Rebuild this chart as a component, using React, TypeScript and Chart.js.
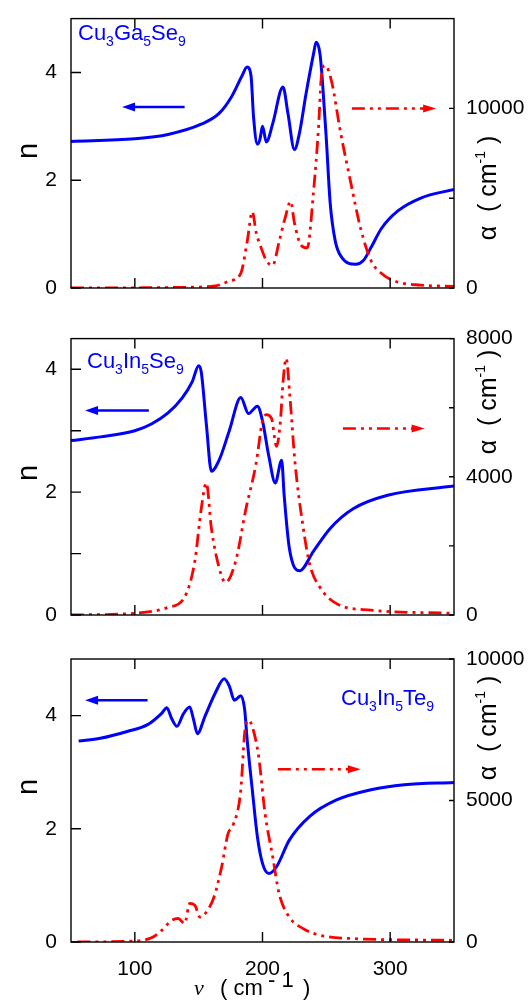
import React, { useEffect, useRef } from "react";
import { Chart, registerables } from "chart.js";
Chart.register(...registerables);

// ---------- shared axis data ----------
const xTicks = [100, 200, 300];
const xTickLabels = ["100", "200", "300"];

// ---------- Panel 1 : Cu3Ga5Se9 ----------
const gaLabel = ["Cu", "3", "Ga", "5", "Se", "9"];
const gaNuN = [50, 100, 126, 152, 166, 176, 184, 188, 191, 193, 196, 198, 200, 203, 208, 216, 220, 225, 229, 234, 240, 242, 245, 247, 250, 253, 257, 262, 273, 279, 285, 293, 306, 324, 350];
const gaN = [2.72, 2.77, 2.85, 3.04, 3.24, 3.56, 3.94, 4.1, 3.94, 3.17, 2.67, 2.76, 3.0, 2.71, 3.05, 3.73, 3.23, 2.57, 2.88, 3.59, 4.35, 4.56, 4.35, 3.82, 2.76, 1.58, 0.87, 0.57, 0.44, 0.51, 0.75, 1.1, 1.43, 1.67, 1.83];
const gaNuA = [50, 100, 140, 163, 174, 183, 188, 192, 195, 199, 203, 208, 213, 218, 222, 225, 230, 235, 240, 244, 246, 249, 254, 261, 269, 277, 285, 293, 306, 324, 350];
const gaAlpha = [0, 10, 40, 120, 390, 820, 2580, 4250, 3100, 2230, 1530, 1260, 2580, 3980, 4820, 3630, 2400, 2230, 5390, 9070, 11700, 12400, 11530, 8720, 5910, 3280, 1530, 820, 330, 160, 90];
const gaNTicks = [0, 2, 4];
const gaNLabels = [0, 2, 4];
const gaATicks = [0, 5000, 10000];
const gaALabels = [0, 10000];

// ---------- Panel 2 : Cu3In5Se9 ----------
const inLabel = ["Cu", "3", "In", "5", "Se", "9"];
const inNuN = [50, 73, 100, 113, 126, 137, 145, 150, 152, 156, 160, 166, 174, 183, 189, 196, 200, 205, 210, 215, 217, 221, 229, 240, 253, 271, 298, 350];
const inN = [2.84, 2.9, 3.0, 3.11, 3.29, 3.53, 3.8, 4.06, 3.96, 3.11, 2.34, 2.52, 3.0, 3.54, 3.28, 3.4, 3.16, 2.58, 2.15, 2.52, 1.94, 1.09, 0.72, 1.04, 1.41, 1.73, 1.95, 2.1];
const inNuA = [50, 100, 126, 139, 147, 152, 156, 160, 166, 171, 179, 187, 195, 200, 203, 207, 211, 214, 216, 218.5, 221.5, 225.5, 232, 237, 245, 258, 285, 350];
const inAlpha = [0, 50, 220, 520, 1560, 3070, 3820, 2500, 1370, 940, 1560, 3070, 4390, 5620, 5800, 5700, 4880, 5600, 6700, 7430, 6300, 4400, 2500, 1460, 800, 330, 140, 50];
const inNTicks = [0, 1, 2, 3, 4];
const inNLabels = [0, 2, 4];
const inATicks = [0, 2000, 4000, 6000, 8000];
const inALabels = [0, 4000, 8000];

// ---------- Panel 3 : Cu3In5Te9 ----------
const teLabel = ["Cu", "3", "In", "5", "Te", "9"];
const teNuN = [56, 73, 94, 110, 121, 125, 129, 133, 138, 143, 146, 149, 155, 163, 170, 174, 178, 183, 186, 188, 192, 196, 200, 205, 211, 221, 237, 258, 285, 311, 350];
const teN = [3.55, 3.6, 3.72, 3.84, 4.04, 4.14, 3.94, 3.81, 4.03, 4.15, 3.93, 3.68, 3.99, 4.4, 4.65, 4.52, 4.27, 4.35, 4.11, 3.57, 2.69, 1.86, 1.39, 1.21, 1.33, 1.8, 2.22, 2.51, 2.69, 2.78, 2.82];
const teNuA = [55, 100, 113, 121, 129, 134, 139, 143, 147, 151, 157, 162, 168, 173, 177, 183, 186, 189, 192, 197, 202, 208, 213, 221, 232, 245, 271, 350];
const teAlpha = [0, 35, 150, 410, 770, 830, 650, 1360, 1300, 880, 1120, 1590, 2650, 3830, 4130, 5370, 7370, 7840, 7610, 6550, 4540, 3010, 1710, 880, 470, 240, 120, 60];
const teNTicks = [0, 2, 4];
const teNLabels = [0, 2, 4];
const teATicks = [0, 5000, 10000];
const teALabels = [0, 5000, 10000];

const BLUE = "#0000ff";
const RED = "#ff0000";
const SANS = "'Liberation Sans', Arial, sans-serif";
const RED_DASH = [13, 5, 3, 5, 3, 5];

type Panel = {
  top: number; height: number; areaTop: number; areaBottom: number;
  nMax: number; nTicks: number[]; nLabels: number[];
  aMax: number; aTicks: number[]; aLabels: number[];
  nuN: number[]; n: number[]; nuA: number[]; alpha: number[];
  label: string[]; labelX: number; labelY: number;
  nTitleY: number; aTitleY: number;
  blueArrow: [number, number, number]; redArrow: [number, number, number];
  showX: boolean;
};

const panels: Panel[] = [
  {
    top: 0, height: 320, areaTop: 6, areaBottom: 288,
    nMax: 5, nTicks: gaNTicks, nLabels: gaNLabels,
    aMax: 15000, aTicks: gaATicks, aLabels: gaALabels,
    nuN: gaNuN, n: gaN, nuA: gaNuA, alpha: gaAlpha,
    label: gaLabel, labelX: 78, labelY: 40,
    nTitleY: 151, aTitleY: 188,
    blueArrow: [139, 90, 3.36], redArrow: [270, 336, 10000],
    showX: false,
  },
  {
    top: 320, height: 320, areaTop: 13, areaBottom: 295,
    nMax: 4.5, nTicks: inNTicks, nLabels: inNLabels,
    aMax: 8000, aTicks: inATicks, aLabels: inALabels,
    nuN: inNuN, n: inN, nuA: inNuA, alpha: inAlpha,
    label: inLabel, labelX: 87, labelY: 48,
    nTitleY: 153, aTitleY: 82,
    blueArrow: [111, 61, 3.33], redArrow: [263, 327, 5400],
    showX: false,
  },
  {
    top: 640, height: 367, areaTop: 19, areaBottom: 302,
    nMax: 5, nTicks: teNTicks, nLabels: teNLabels,
    aMax: 10000, aTicks: teATicks, aLabels: teALabels,
    nuN: teNuN, n: teN, nuA: teNuA, alpha: teAlpha,
    label: teLabel, labelX: 341, labelY: 65,
    nTitleY: 147, aTitleY: 88,
    blueArrow: [110, 61, 4.27], redArrow: [212, 277, 6100],
    showX: true,
  },
];

const LEFT_W = 71;
const RIGHT_W = 528 - 454;

function drawArrowHead(ctx: CanvasRenderingContext2D, tipX: number, y: number, dir: number, len: number, half: number, color: string) {
  ctx.save();
  ctx.setLineDash([]);
  ctx.fillStyle = color;
  ctx.beginPath();
  ctx.moveTo(tipX, y);
  ctx.lineTo(tipX - dir * len, y - half);
  ctx.lineTo(tipX - dir * len, y + half);
  ctx.closePath();
  ctx.fill();
  ctx.restore();
}

function makeDecor(p: Panel) {
  return {
    id: "decor",
    afterDraw(chart: any) {
      const ctx: CanvasRenderingContext2D = chart.ctx;
      const a = chart.chartArea;
      const xs = chart.scales.x;
      const yn = chart.scales.yN;
      const ya = chart.scales.yA;
      ctx.save();
      // frame
      ctx.strokeStyle = "#000";
      ctx.lineWidth = 1.4;
      ctx.setLineDash([]);
      ctx.strokeRect(a.left, a.top, a.right - a.left, a.bottom - a.top);
      // ticks (inward)
      ctx.beginPath();
      for (const v of xTicks) {
        const px = xs.getPixelForValue(v);
        ctx.moveTo(px, a.bottom); ctx.lineTo(px, a.bottom - 10);
        ctx.moveTo(px, a.top); ctx.lineTo(px, a.top + 10);
      }
      for (const v of p.nTicks) {
        const py = yn.getPixelForValue(v);
        ctx.moveTo(a.left, py); ctx.lineTo(a.left + 10, py);
      }
      for (const v of p.aTicks) {
        const py = ya.getPixelForValue(v);
        ctx.moveTo(a.right, py); ctx.lineTo(a.right - 5, py);
      }
      ctx.stroke();

      // compound label
      let x = p.labelX;
      ctx.fillStyle = BLUE;
      ctx.textBaseline = "alphabetic";
      ctx.textAlign = "left";
      p.label.forEach((s, i) => {
        const sub = i % 2 === 1;
        ctx.font = `${sub ? 14 : 22}px ${SANS}`;
        ctx.fillText(s, x, p.labelY + (sub ? 6 : 0));
        x += ctx.measureText(s).width;
      });

      // blue arrow (n, points left)
      const [bx1, bx2, bn] = p.blueArrow;
      const by = yn.getPixelForValue(bn);
      const bp1 = xs.getPixelForValue(bx1);
      const bp2 = xs.getPixelForValue(bx2);
      ctx.strokeStyle = BLUE;
      ctx.lineWidth = 2.5;
      ctx.beginPath();
      ctx.moveTo(bp1, by); ctx.lineTo(bp2 + 8, by);
      ctx.stroke();
      drawArrowHead(ctx, bp2, by, -1, 13, 4.5, BLUE);

      // red arrow (alpha, points right)
      const [rx1, rx2, ra] = p.redArrow;
      const ry = ya.getPixelForValue(ra);
      const rp1 = xs.getPixelForValue(rx1);
      const rp2 = xs.getPixelForValue(rx2);
      ctx.strokeStyle = RED;
      ctx.lineWidth = 2.5;
      ctx.setLineDash(RED_DASH);
      ctx.beginPath();
      ctx.moveTo(rp1, ry); ctx.lineTo(rp2 - 8, ry);
      ctx.stroke();
      ctx.setLineDash([]);
      drawArrowHead(ctx, rp2, ry, 1, 13, 4, RED);

      // left title "n"
      ctx.fillStyle = "#000";
      ctx.save();
      ctx.translate(37, p.nTitleY);
      ctx.rotate(-Math.PI / 2);
      ctx.font = `29px ${SANS}`;
      ctx.textAlign = "center";
      ctx.textBaseline = "alphabetic";
      ctx.fillText("n", 0, 0);
      ctx.restore();

      // right title "α ( cm-1 )"
      ctx.save();
      ctx.translate(496, p.aTitleY);
      ctx.rotate(-Math.PI / 2);
      ctx.textBaseline = "alphabetic";
      ctx.textAlign = "left";
      const segs: [string, boolean][] = [["α  ( cm", false], ["-1", true], [" )", false]];
      let total = 0;
      for (const [s, sup] of segs) {
        ctx.font = `${sup ? 14 : 25}px ${SANS}`;
        total += ctx.measureText(s).width;
      }
      let tx = -total / 2;
      for (const [s, sup] of segs) {
        ctx.font = `${sup ? 14 : 25}px ${SANS}`;
        ctx.fillText(s, tx, sup ? -11 : 0);
        tx += ctx.measureText(s).width;
      }
      ctx.restore();

      // x title
      if (p.showX) {
        const base = 995 - p.top;
        ctx.fillStyle = "#000";
        ctx.textAlign = "left";
        ctx.textBaseline = "alphabetic";
        ctx.font = `italic 22px 'Liberation Serif', 'Times New Roman', serif`;
        ctx.fillText("ν", 194, base);
        ctx.font = `22px ${SANS}`;
        ctx.fillText("( cm", 220, base);
        ctx.fillText("- 1", 268, base - 8);
        ctx.fillText(")", 303, base);
      }
      ctx.restore();
    },
  };
}

function PanelChart({ p }: { p: Panel }) {
  const ref = useRef<HTMLCanvasElement | null>(null);
  useEffect(() => {
    if (!ref.current) return;
    const chart = new Chart(ref.current, {
      type: "line",
      data: {
        datasets: [
          {
            data: p.nuA.map((v, i) => ({ x: v, y: p.alpha[i] })),
            yAxisID: "yA",
            borderColor: RED,
            borderWidth: 2.8,
            borderDash: RED_DASH,
            pointRadius: 0,
            fill: false,
            cubicInterpolationMode: "monotone",
          },
          {
            data: p.nuN.map((v, i) => ({ x: v, y: p.n[i] })),
            yAxisID: "yN",
            borderColor: BLUE,
            borderWidth: 3,
            pointRadius: 0,
            fill: false,
            cubicInterpolationMode: "monotone",
          },
        ],
      },
      options: {
        animation: false,
        responsive: false,
        devicePixelRatio: 1,
        layout: { padding: { top: p.areaTop, left: 0, right: 0, bottom: 0 } },
        plugins: { legend: { display: false }, tooltip: { enabled: false } },
        scales: {
          x: {
            type: "linear",
            position: "bottom",
            min: 50,
            max: 350,
            grid: { display: false },
            border: { display: false },
            afterBuildTicks: (s: any) => { s.ticks = xTicks.map((v) => ({ value: v })); },
            afterFit: (s: any) => { s.height = p.height - p.areaBottom; },
            ticks: {
              display: p.showX,
              padding: 7,
              color: "#000",
              font: { family: SANS, size: 21 },
              callback: (v: any) => { const i = xTicks.indexOf(Number(v)); return i >= 0 ? xTickLabels[i] : ""; },
            },
          },
          yN: {
            type: "linear",
            position: "left",
            min: 0,
            max: p.nMax,
            grid: { display: false },
            border: { display: false },
            afterBuildTicks: (s: any) => { s.ticks = p.nTicks.map((v) => ({ value: v })); },
            afterFit: (s: any) => { s.width = LEFT_W; },
            ticks: {
              padding: 6,
              color: "#000",
              font: { family: SANS, size: 21 },
              callback: (v: any) => (p.nLabels.includes(Number(v)) ? String(v) : ""),
            },
          },
          yA: {
            type: "linear",
            position: "right",
            min: 0,
            max: p.aMax,
            grid: { display: false },
            border: { display: false },
            afterBuildTicks: (s: any) => { s.ticks = p.aTicks.map((v) => ({ value: v })); },
            afterFit: (s: any) => { s.width = RIGHT_W; },
            ticks: {
              padding: 4,
              color: "#000",
              font: { family: SANS, size: 21 },
              callback: (v: any) => (p.aLabels.includes(Number(v)) ? String(v) : ""),
            },
          },
        },
      },
      plugins: [makeDecor(p)],
    } as any);
    return () => chart.destroy();
  }, [p]);
  return (
    <canvas
      ref={ref}
      width={528}
      height={p.height}
      style={{ position: "absolute", left: 0, top: p.top, width: 528, height: p.height }}
    />
  );
}

export default function App() {
  return (
    <div style={{ position: "absolute", left: 0, top: 0, width: 528, height: 1007, background: "#fff" }}>
      {panels.map((p, i) => (
        <PanelChart key={i} p={p} />
      ))}
    </div>
  );
}
